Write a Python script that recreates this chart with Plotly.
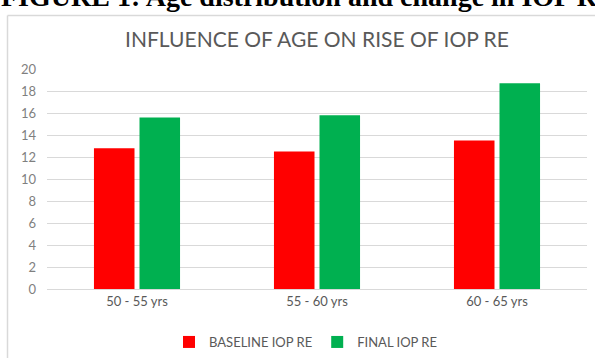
import plotly.graph_objects as go

categories = ["50 - 55 yrs", "55 - 60 yrs", "60 - 65 yrs"]
baseline_iop_re = [12.8, 12.5, 13.5]
final_iop_re = [15.6, 15.8, 18.7]
y_ticks = list(range(0, 21, 2))

W, H = 595, 358
L, R, T, B = 47, 587, 69, 289  # plot area in px

def px_x(px):
    return (px - L) / (R - L)

def px_y(py):
    return (B - py) / (B - T)

font_main = "Lato, 'Open Sans', sans-serif"
grey = "#595959"

fig = go.Figure()
fig.add_trace(go.Bar(x=categories, y=baseline_iop_re, name="BASELINE IOP RE",
                     marker=dict(color="#FF0000", line=dict(width=0))))
fig.add_trace(go.Bar(x=categories, y=final_iop_re, name="FINAL IOP RE",
                     marker=dict(color="#00B050", line=dict(width=0))))

fig.update_layout(
    width=W, height=H,
    margin=dict(l=L, r=W - R, t=T, b=H - B, autoexpand=False),
    paper_bgcolor="white", plot_bgcolor="white",
    barmode="group", bargap=0.494, bargroupgap=0.11,
    showlegend=True,
    legend=dict(orientation="h", x=px_x(306), xanchor="center", y=px_y(342), yanchor="middle",
                font=dict(family=font_main, size=13, color=grey),
                itemwidth=30, traceorder="normal"),
    title=dict(text="INFLUENCE OF AGE ON RISE OF IOP RE", x=317 / W, xanchor="center",
               xref="container", y=1 - 40 / H, yanchor="middle",
               font=dict(family=font_main, size=21, color=grey)),
    xaxis=dict(showgrid=False, showline=True, linecolor="#D9D9D9", linewidth=1,
               ticks="", tickfont=dict(family=font_main, size=13, color=grey),
               fixedrange=True),
    yaxis=dict(range=[0, 20], tickvals=y_ticks, showgrid=True, gridcolor="#D9D9D9",
               gridwidth=1, zeroline=False, showline=False, ticks="",
               tickfont=dict(family=font_main, size=13, color="#7f7f7f"),
               ticklabelstandoff=10, fixedrange=True),
    shapes=[
        dict(type="line", xref="paper", yref="paper", x0=px_x(7.5), x1=px_x(7.5),
             y0=px_y(15.5), y1=px_y(360), line=dict(color="#D9D9D9", width=1.5)),
        dict(type="line", xref="paper", yref="paper", x0=px_x(7.5), x1=px_x(600),
             y0=px_y(15.5), y1=px_y(15.5), line=dict(color="#D9D9D9", width=1.5)),
    ],
    annotations=[
        dict(text="<b>FIGURE 1: Age distribution and change in IOP RE</b>",
             xref="paper", yref="paper", x=px_x(-1), y=px_y(-3), xanchor="left",
             yanchor="middle", showarrow=False,
             font=dict(family="Liberation Serif, serif", size=28, color="black")),
    ],
)

fig.write_html("out.html")
